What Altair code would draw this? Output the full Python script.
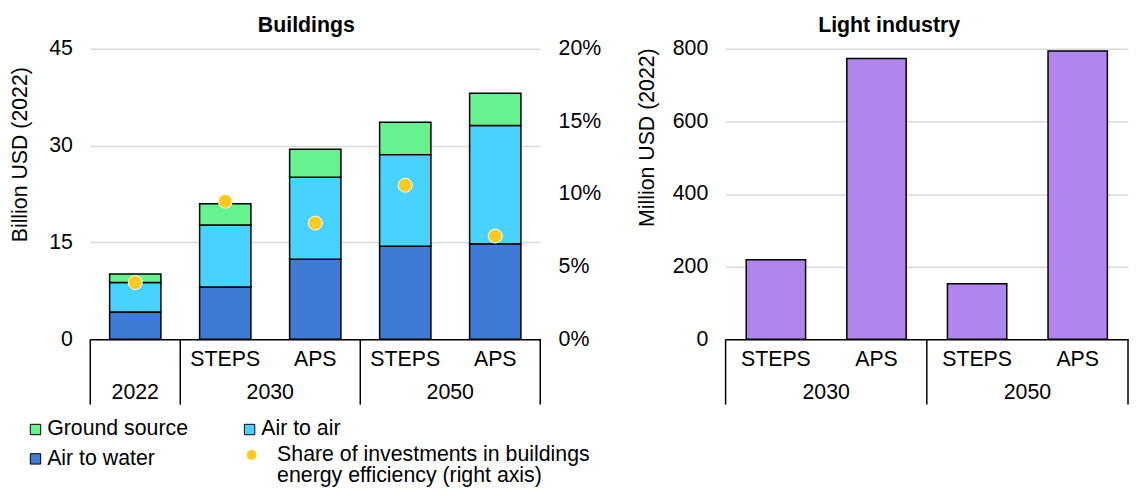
import json
import altair as alt
import pandas as pd

# ---------------- data ----------------
# Buildings panel
b_years = ["2022", "2030", "2030", "2050", "2050"]
b_scen = ["", "STEPS", "APS", "STEPS", "APS"]
air_to_water = [4.2, 8.1, 12.4, 14.4, 14.8]
air_to_air = [4.6, 9.6, 12.7, 14.2, 18.3]
ground_source = [1.3, 3.3, 4.35, 5.0, 5.0]
share_eff = [3.9, 9.5, 8.0, 10.6, 7.1]  # percent, right axis

# legend order (column-major in a 2-column legend)
series_names = ["Ground source", "Air to water", "Air to air"]
series_colors = ["#66F28E", "#3E7BD4", "#48D2FF"]
share_lines = ["Share of investments in buildings", "energy efficiency (right axis)"]

b_ticks = [0, 15, 30, 45]
share_ticks = [0, 5, 10, 15, 20]

# Light industry panel
l_years = ["2030", "2030", "2050", "2050"]
l_scen = ["STEPS", "APS", "STEPS", "APS"]
light_industry = [219, 773, 153, 794]
l_ticks = [0, 200, 400, 600, 800]

FONT = "Liberation Sans"
FS = 21.5
H = 293

# ---------------- helpers ----------------
def make_keys(years, scen):
    return [(y + " " + s).strip() for y, s in zip(years, scen)]


def group_frames(years, keys):
    groups = []
    for y, k in zip(years, keys):
        if groups and groups[-1]["year"] == y:
            groups[-1]["keys"].append(k)
        else:
            groups.append({"year": y, "keys": [k]})
    starts = pd.DataFrame({"key": [g["keys"][0] for g in groups]})
    end = pd.DataFrame({"key": [keys[-1]]})
    even = pd.DataFrame({"key": [g["keys"][len(g["keys"]) // 2] for g in groups if len(g["keys"]) % 2 == 0],
                         "year": [g["year"] for g in groups if len(g["keys"]) % 2 == 0]})
    odd = pd.DataFrame({"key": [g["keys"][len(g["keys"]) // 2] for g in groups if len(g["keys"]) % 2 == 1],
                        "year": [g["year"] for g in groups if len(g["keys"]) % 2 == 1]})
    return starts, end, even, odd


x_axis = alt.Axis(title=None, labels=False, ticks=False, domain=True, domainColor="black",
                  domainWidth=1.5, grid=False, zindex=1)


def category_layers(keys, scen, years):
    xs = alt.Scale(domain=keys, paddingInner=0, paddingOuter=0)
    starts, end, even, odd = group_frames(years, keys)
    scen_df = pd.DataFrame({"key": keys, "scen": scen})

    def X(bp):
        return alt.X("key:N", scale=xs, axis=x_axis, bandPosition=bp)

    rule_kw = dict(color="black", strokeWidth=1.5)
    layers = [
        alt.Chart(starts).mark_rule(**rule_kw).encode(x=X(0), y=alt.value(H), y2=alt.value(H + 66)),
        alt.Chart(end).mark_rule(**rule_kw).encode(x=X(1), y=alt.value(H), y2=alt.value(H + 66)),
        alt.Chart(scen_df).mark_text(baseline="alphabetic", fontSize=FS, font=FONT, color="black")
        .encode(x=X(0.5), y=alt.value(H + 27), text="scen:N"),
    ]
    if len(even):
        layers.append(alt.Chart(even).mark_text(baseline="alphabetic", fontSize=FS, font=FONT, color="black")
                      .encode(x=X(0), y=alt.value(H + 60), text="year:N"))
    if len(odd):
        layers.append(alt.Chart(odd).mark_text(baseline="alphabetic", fontSize=FS, font=FONT, color="black")
                      .encode(x=X(0.5), y=alt.value(H + 60), text="year:N"))
    return xs, layers


def y_axis(values, title, title_x, title_y):
    return alt.Axis(values=values, title=title, grid=True, gridColor="#D9D9D9", gridWidth=1.5,
                    domain=False, ticks=False, tickSize=0, labelPadding=18, labelFontSize=FS,
                    labelFont=FONT, labelColor="black", titleFontSize=FS, titleFont=FONT,
                    titleFontWeight="normal", titleColor="black", titleAnchor="end",
                    titleAlign="right", titleBaseline="alphabetic", titleAngle=-90,
                    titleX=title_x, titleY=title_y)


def panel_title(text, dx):
    return alt.TitleParams(text, fontSize=FS, font=FONT, fontWeight="bold", color="black",
                           offset=1, dx=dx)


# ---------------- Buildings ----------------
b_keys = make_keys(b_years, b_scen)
series_values = {"Air to water": air_to_water, "Air to air": air_to_air, "Ground source": ground_source}
stack_order = ["Air to water", "Air to air", "Ground source"]
rows = []
for si, s in enumerate(stack_order):
    for k, v in zip(b_keys, series_values[s]):
        rows.append({"key": k, "series": s, "value": v, "stack": si})
bars_df = pd.DataFrame(rows)
share_label = " ".join(share_lines)
share_df = pd.DataFrame({"key": b_keys, "share": share_eff, "label": share_label})

bxs, b_cat_layers = category_layers(b_keys, b_scen, b_years)

b_bars = alt.Chart(bars_df).mark_bar(width={"band": 0.57}, stroke="black", strokeWidth=1.5).encode(
    x=alt.X("key:N", scale=bxs, axis=x_axis),
    y=alt.Y("value:Q", stack="zero", scale=alt.Scale(domain=[0, 45], nice=False),
            axis=y_axis(b_ticks, "Billion USD (2022)", -64, 18)),
    color=alt.Color("series:N", scale=alt.Scale(domain=series_names, range=series_colors),
                    legend=alt.Legend(title=None, orient="none", legendX=-66, legendY=373, columns=2,
                                      columnPadding=51, rowPadding=7, symbolType="square",
                                      symbolSize=110, symbolStrokeColor="black", symbolStrokeWidth=1,
                                      labelFontSize=FS, labelFont=FONT, labelColor="black",
                                      labelOffset=1, labelLimit=400)),
    order=alt.Order("stack:Q"),
)

b_points = alt.Chart(share_df).mark_point(filled=True, size=200, color="#FFC91F", stroke="white",
                                          strokeWidth=1, opacity=1).encode(
    x=alt.X("key:N", scale=bxs, axis=x_axis),
    y=alt.Y("share:Q", scale=alt.Scale(domain=[0, 20], nice=False),
            axis=alt.Axis(orient="right", values=share_ticks, labelExpr="datum.value + '%'", title=None,
                          grid=False, domain=False, ticks=False, tickSize=0, labelPadding=18,
                          labelFontSize=FS, labelFont=FONT, labelColor="black")),
    shape=alt.Shape("label:N", scale=alt.Scale(domain=[share_label], range=["circle"]),
                    legend=alt.Legend(title=None, orient="none", legendX=152, legendY=399,
                                      symbolSize=100, symbolFillColor="#FFC91F", symbolStrokeWidth=0,
                                      labelFontSize=FS, labelFont=FONT, labelColor="black",
                                      labelOffset=15, labelLimit=600,
                                      labelExpr=json.dumps(share_lines))),
)

buildings = alt.layer(b_bars, b_points, *b_cat_layers).resolve_scale(y="independent").properties(
    width=454, height=H, title=panel_title("Buildings", -9))

# ---------------- Light industry ----------------
l_keys = make_keys(l_years, l_scen)
light_df = pd.DataFrame({"key": l_keys, "value": light_industry})
lxs, l_cat_layers = category_layers(l_keys, l_scen, l_years)

l_bars = alt.Chart(light_df).mark_bar(width={"band": 0.59}, color="#B185EE", stroke="black",
                                       strokeWidth=1.5).encode(
    x=alt.X("key:N", scale=lxs, axis=x_axis),
    y=alt.Y("value:Q", scale=alt.Scale(domain=[0, 800], nice=False),
            axis=y_axis(l_ticks, "Million USD (2022)", -73, -1)),
)

light = alt.layer(l_bars, *l_cat_layers).properties(width=406, height=H,
                                                    title=panel_title("Light industry", -38))

chart = alt.hconcat(buildings, light, spacing=34).properties(
    padding={"left": 1, "top": 5, "right": 0, "bottom": 0}
).configure(font=FONT, style={"guide-label": {"lineHeight": 21.6}}).configure_view(stroke=None)

chart.save("out.html", embed_options={"renderer": "svg", "actions": False})
